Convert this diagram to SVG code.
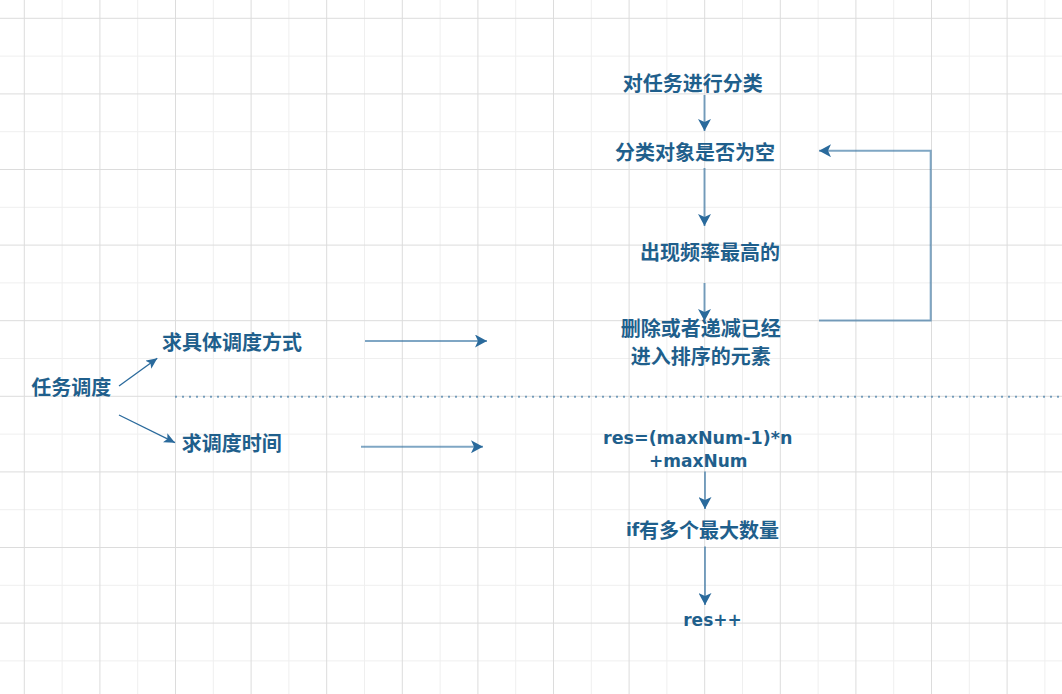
<svg xmlns="http://www.w3.org/2000/svg" width="1062" height="694" viewBox="0 0 1062 694">
<style>
.gl{stroke:#efefef;stroke-width:1;fill:none}
.gd{stroke:#dcdcdc;stroke-width:1;fill:none}
.t{font-family:"Noto Sans CJK SC","Noto Sans",sans-serif;font-size:20px;font-weight:600;fill:#1f5f8c;text-anchor:middle;dominant-baseline:central}
.l{font-family:"DejaVu Sans","Noto Sans CJK SC",sans-serif;font-size:17px;font-weight:700;fill:#1f5f8c;text-anchor:middle}
.c{stroke:#2a6a9c;stroke-opacity:0.6;stroke-width:2;fill:none;marker-end:url(#ah)}
.d{stroke:#2a6a9c;stroke-width:1.3;fill:none;marker-end:url(#as)}
</style>
<defs>
<marker id="ah" markerUnits="userSpaceOnUse" markerWidth="13" markerHeight="13" viewBox="0 0 12 13" refX="12" refY="6.5" orient="auto"><path d="M0,0 L12,6.5 L0,13 L3,6.5 Z" fill="#2a6a9c"/></marker>
<marker id="as" markerUnits="userSpaceOnUse" markerWidth="11" markerHeight="10" viewBox="0 0 11 10" refX="11" refY="5" orient="auto"><path d="M0,0 L11,5 L0,10 L2.5,5 Z" fill="#2a6a9c"/></marker>
</defs>
<rect width="1062" height="694" fill="#ffffff"/>
<g id="grid">
<path class="gl" d="M62.1,0V694M137.7,0V694M213.3,0V694M288.9,0V694M364.5,0V694M440.1,0V694M515.7,0V694M591.3,0V694M666.9,0V694M742.5,0V694M818.1,0V694M893.7,0V694M969.3,0V694M1044.9,0V694M0,56.1H1062M0,131.7H1062M0,207.3H1062M0,282.9H1062M0,358.5H1062M0,434.1H1062M0,509.7H1062M0,585.3H1062M0,660.9H1062"/>
<path class="gd" d="M24.3,0V694M99.9,0V694M175.5,0V694M251.1,0V694M326.7,0V694M402.3,0V694M477.9,0V694M553.5,0V694M629.1,0V694M704.7,0V694M780.3,0V694M855.9,0V694M931.5,0V694M1007.1,0V694M0,18.3H1062M0,93.9H1062M0,169.5H1062M0,245.1H1062M0,320.7H1062M0,396.3H1062M0,471.9H1062M0,547.5H1062M0,623.1H1062"/>
</g>
<g id="connectors">
<line x1="175" y1="396.7" x2="1062" y2="396.7" stroke="#2a6a9c" stroke-opacity="0.6" stroke-width="2" stroke-dasharray="2 5"/>
<path class="c" d="M704.5,95V131"/>
<path class="c" d="M704.5,168V226"/>
<path class="c" d="M704.5,283V321"/>
<path class="c" d="M819,320.5H930.7V150.7H819"/>
<path class="c" d="M705,471.5V509"/>
<path class="c" d="M705,546.5V605"/>
<path class="c" d="M365,341H487"/>
<path class="c" d="M361,446.7H483"/>
<path class="d" d="M119,386L157.3,358.3"/>
<path class="d" d="M119,415L175,442.7"/>
</g>
<g id="n-classify"><text class="t" x="692.8" y="82.5">对任务进行分类</text></g>
<g id="n-empty"><text class="t" x="695" y="151.7">分类对象是否为空</text></g>
<g id="n-freq"><text class="t" x="710" y="251">出现频率最高的</text></g>
<g id="n-delete"><text class="t" x="700.8" y="327">删除或者递减已经</text><text class="t" x="700.8" y="355">进入排序的元素</text></g>
<g id="n-task"><text class="t" x="71.2" y="386">任务调度</text></g>
<g id="n-method"><text class="t" x="232" y="341">求具体调度方式</text></g>
<g id="n-time"><text class="t" x="231.7" y="442">求调度时间</text></g>
<g id="n-res"><text class="l" x="697.7" y="443.7" style="font-size:17.5px">res=(maxNum-1)*n</text><text class="l" x="698.3" y="466.7">+maxNum</text></g>
<g id="n-if"><text class="t" x="702.5" y="529.7"><tspan style="font-family:'DejaVu Sans',sans-serif;font-size:17px;font-weight:700">if</tspan>有多个最大数量</text></g>
<g id="n-inc"><text class="l" x="712.5" y="626">res++</text></g>
</svg>
